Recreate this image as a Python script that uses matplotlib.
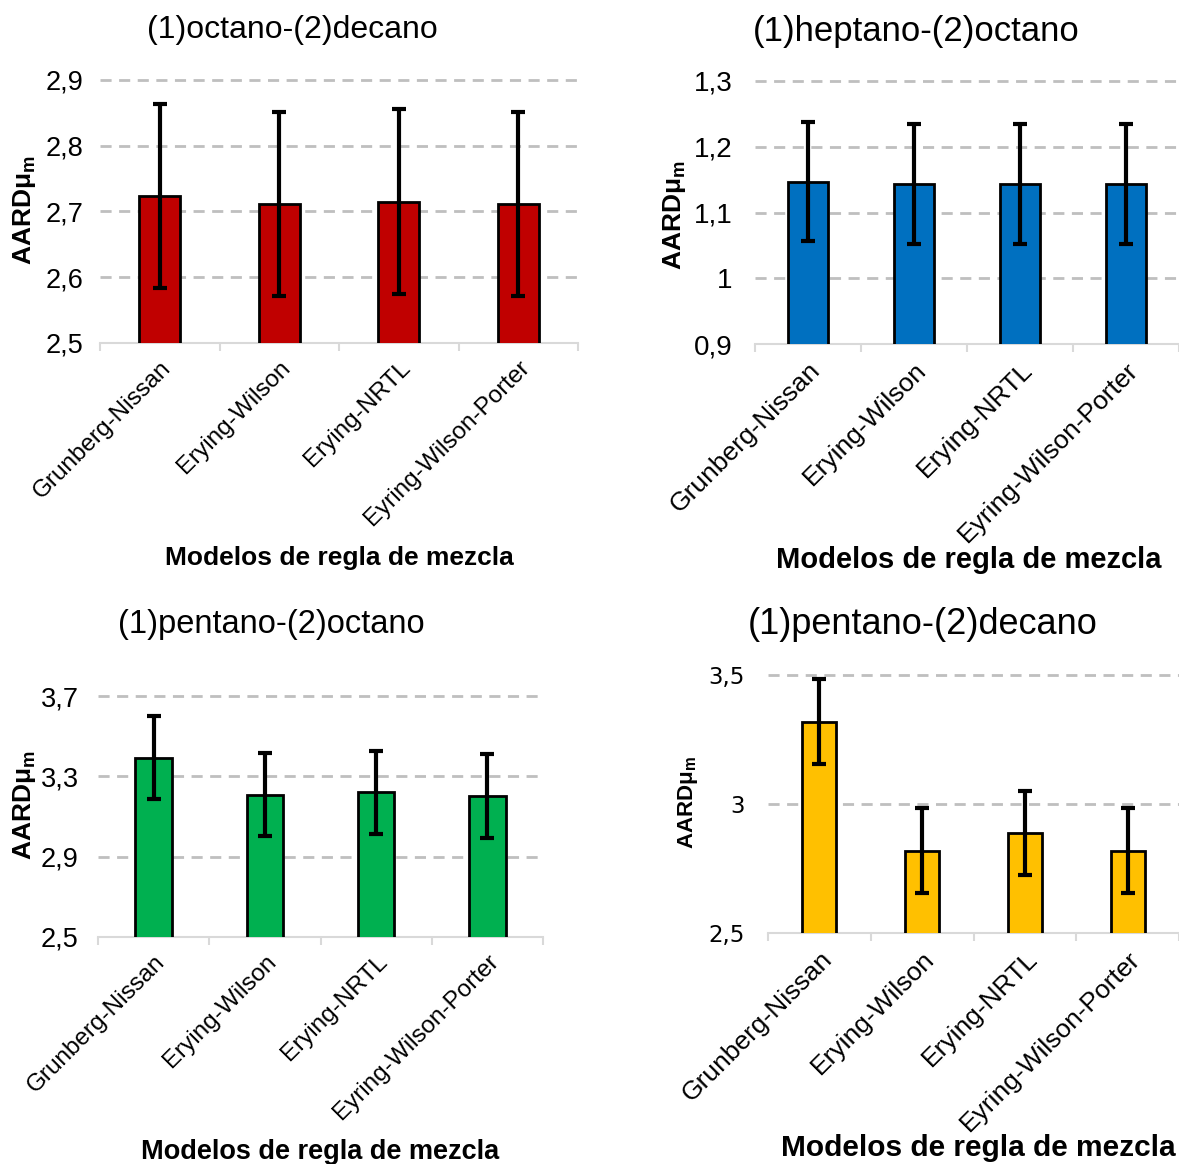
import numpy as np
import matplotlib
matplotlib.use("Agg")
import matplotlib.pyplot as plt

plt.rcParams['font.family'] = ['Liberation Sans', 'DejaVu Sans']
plt.rcParams['mathtext.fontset'] = 'custom'
plt.rcParams['mathtext.bf'] = 'Liberation Sans:bold'
plt.rcParams['mathtext.rm'] = 'Liberation Sans'

models = ['Grunberg-Nissan', 'Erying-Wilson', 'Erying-NRTL', 'Eyring-Wilson-Porter']

titles = ['(1)octano-(2)decano', '(1)heptano-(2)octano',
          '(1)pentano-(2)octano', '(1)pentano-(2)decano']

# mean AARD and error (symmetric) for each system
octano_decano = [2.723, 2.711, 2.715, 2.711]
octano_decano_err = [0.140, 0.140, 0.141, 0.140]
heptano_octano = [1.147, 1.143, 1.143, 1.143]
heptano_octano_err = [0.091, 0.091, 0.091, 0.091]
pentano_octano = [3.393, 3.209, 3.221, 3.201]
pentano_octano_err = [0.207, 0.207, 0.206, 0.209]
pentano_decano = [3.319, 2.819, 2.888, 2.819]
pentano_decano_err = [0.164, 0.165, 0.164, 0.165]

yticks = [[2.5, 2.6, 2.7, 2.8, 2.9],
          [0.9, 1.0, 1.1, 1.2, 1.3],
          [2.5, 2.9, 3.3, 3.7],
          [2.5, 3.0, 3.5]]
ytick_labels = [['2,5', '2,6', '2,7', '2,8', '2,9'],
                ['0,9', '1', '1,1', '1,2', '1,3'],
                ['2,5', '2,9', '3,3', '3,7'],
                ['2,5', '3', '3,5']]

values = [octano_decano, heptano_octano, pentano_octano, pentano_decano]
errors = [octano_decano_err, heptano_octano_err, pentano_octano_err, pentano_decano_err]
colors = ['#C00000', '#0070C0', '#00B050', '#FFC000']

W, H = 1179, 1164
fig = plt.figure(figsize=(W / 100, H / 100), dpi=100)

# axes boxes in pixels: left, right, top, bottom
boxes = [(100, 578, 80, 343), (755, 1179, 81, 344),
         (98, 543, 696, 937), (768, 1179, 675, 933)]
title_pos = [(292, 30), (916, 32), (271, 625), (923, 625)]
xlabel_pos = [(339, 558), (969, 560), (320, 1152), (978, 1148)]
ylabel_pos = [(25, 210), (675, 215), (25, 805), (688, 803)]
bar_w = [0.34, 0.37, 0.33, 0.33]

title_fs = [23, 25, 23.5, 26]
xlabel_fs = [19, 21, 19.5, 21.5]
xtick_fs = [17.5, 19, 17.5, 19]
ytick_fs = [19.5, 20, 19.5, 16.5]
ytick_pad = [12, 16, 14, 17]
ylabel_fs = [19, 19, 19, 16]

for i in range(4):
    l, r, t, b = boxes[i]
    ax = fig.add_axes([l / W, 1 - b / H, (r - l) / W, (b - t) / H])
    x = np.arange(4)
    ax.bar(x, values[i], width=bar_w[i], color=colors[i], edgecolor='black',
           linewidth=2, zorder=3)
    ax.errorbar(x, values[i], yerr=errors[i], fmt='none', ecolor='black',
                elinewidth=3, capsize=5, capthick=3, zorder=4)
    ax.set_xlim(-0.5, 3.5)
    ax.set_ylim(yticks[i][0], yticks[i][-1])
    ax.set_yticks(yticks[i])
    if i == 3:
        ax.set_yticklabels(ytick_labels[i], fontsize=ytick_fs[i], family='DejaVu Sans')
    else:
        ax.set_yticklabels(ytick_labels[i], fontsize=ytick_fs[i])
    for y in yticks[i][1:]:
        ax.axhline(y, color='#BFBFBF', linestyle=(0, (4, 2.7)), linewidth=2,
                   zorder=1, clip_on=False)
    for s in ['top', 'right', 'left']:
        ax.spines[s].set_visible(False)
    ax.spines['bottom'].set_color('#D9D9D9')
    ax.spines['bottom'].set_linewidth(1.5)
    ax.tick_params(axis='y', length=0, pad=ytick_pad[i])
    ax.set_xticks(np.arange(-0.5, 4, 1), minor=False)
    ax.set_xticklabels([])
    ax.tick_params(axis='x', which='major', length=6, color='#D9D9D9', width=1.5)
    ax.set_xticks(x, minor=True)
    ax.set_xticklabels(models, minor=True, rotation=45, ha='right',
                       rotation_mode='anchor', fontsize=xtick_fs[i])
    ax.tick_params(axis='x', which='minor', length=0, pad=10)

    fig.text(title_pos[i][0] / W, 1 - title_pos[i][1] / H, titles[i],
             fontsize=title_fs[i], ha='center', va='center')
    fig.text(xlabel_pos[i][0] / W, 1 - xlabel_pos[i][1] / H,
             'Modelos de regla de mezcla', fontsize=xlabel_fs[i], fontweight='bold',
             ha='center', va='center')
    fig.text(ylabel_pos[i][0] / W, 1 - ylabel_pos[i][1] / H,
             r'AARDμ$_\mathbf{m}$', fontsize=ylabel_fs[i],
             fontweight='bold', rotation=90, ha='center', va='center')

fig.savefig('out.png', dpi=100, facecolor='white')
